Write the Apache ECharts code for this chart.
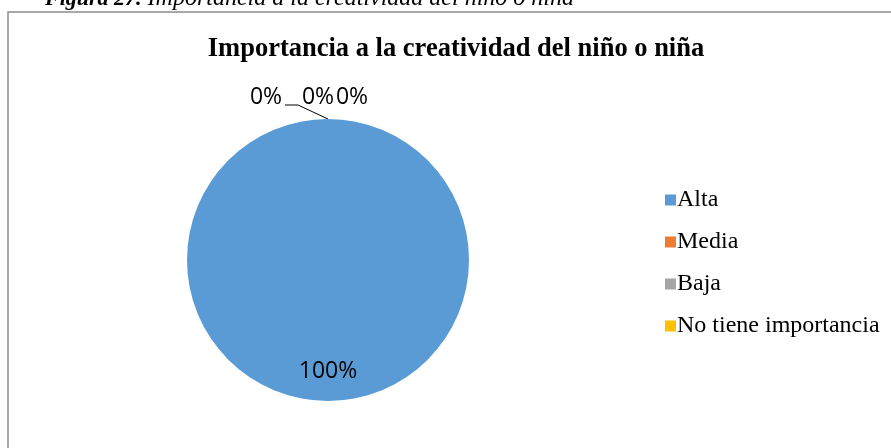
<!DOCTYPE html>
<html>
<head>
    <meta charset="utf-8">
    <title>Importancia a la creatividad del niño o niña</title>
    <script src="https://cdn.jsdelivr.net/npm/echarts@6/dist/echarts.min.js"></script>
    <style>
        html, body { margin: 0; padding: 0; background: #fff; }
    </style>
</head>
<body>
    <div id="main" style="width: 891px;height:448px;"></div>
    <script>
        // datos
        var categorias = ['Alta', 'Media', 'Baja', 'No tiene importancia'];
        var valores = [100, 0, 0, 0];
        var colores = ['#5B9BD5', '#ED7D31', '#A5A5A5', '#FFC000'];

        var centro = [328, 260];
        var radio = 141;

        var datos = categorias.map(function (c, i) {
            return { name: c, value: valores[i], itemStyle: { color: colores[i] } };
        });
        // 100% dentro del circulo, los 0% fuera
        datos[0].label = { position: 'inside', offset: [0, 38] };

        // desplazamiento horizontal de las etiquetas 0% respecto a lo alto del circulo
        var dxCeros = { 1: -62, 2: -10, 3: 24 };

        var myChart = echarts.init(document.getElementById('main'));

        var option = {
            animation: false,
            title: [{
                text: 'Importancia a la creatividad del niño o niña',
                left: 456,
                textAlign: 'center',
                top: 36,
                padding: 0,
                textStyle: { fontFamily: 'Liberation Serif', fontWeight: 'bold', fontSize: 26.5, color: '#000' }
            }, {
                text: '{b|Figura 27.}{n| Importancia a la creatividad del niño o niña}',
                left: 45,
                top: -13,
                padding: 0,
                textStyle: {
                    rich: {
                        b: { fontFamily: 'Liberation Serif', fontStyle: 'italic', fontWeight: 'bold', fontSize: 22, color: '#000' },
                        n: { fontFamily: 'Liberation Serif', fontStyle: 'italic', fontWeight: 'normal', fontSize: 24, color: '#000' }
                    }
                }
            }],
            graphic: [{
                type: 'rect',
                shape: { x: 8, y: 12, width: 900, height: 460 },
                style: { fill: 'none', stroke: '#8c8c8c', lineWidth: 1.5 },
                silent: true
            }],
            legend: {
                orient: 'vertical',
                left: 660,
                top: 183,
                itemWidth: 11,
                itemHeight: 11,
                itemGap: 18,
                icon: 'rect',
                data: categorias,
                textStyle: { fontFamily: 'Liberation Serif', fontSize: 24, lineHeight: 24, color: '#000', padding: [0, 0, 0, -4] }
            },
            series: [{
                type: 'pie',
                center: centro,
                radius: radio,
                startAngle: 90,
                avoidLabelOverlap: false,
                data: datos,
                label: {
                    show: true,
                    formatter: function (p) { return Math.round(p.percent) + '%'; },
                    fontFamily: 'Open Sans',
                    fontSize: 23,
                    color: '#000'
                },
                labelLine: { show: true, length: 12, length2: 16, lineStyle: { color: '#000', width: 1 } },
                labelLayout: function (p) {
                    if (p.dataIndex === 0) return {};
                    var topY = centro[1] - radio;
                    var res = {
                        x: centro[0] + dxCeros[p.dataIndex],
                        y: topY - 22,
                        align: 'center',
                        verticalAlign: 'middle'
                    };
                    if (p.dataIndex === 1) {
                        res.labelLinePoints = [[centro[0], topY], [centro[0] - 30, topY - 14], [centro[0] - 43, topY - 14]];
                    } else {
                        res.labelLinePoints = [[centro[0], topY], [centro[0], topY], [centro[0], topY]];
                    }
                    return res;
                },
                emphasis: { disabled: true }
            }]
        };

        myChart.setOption(option);
    </script>
</body>
</html>
